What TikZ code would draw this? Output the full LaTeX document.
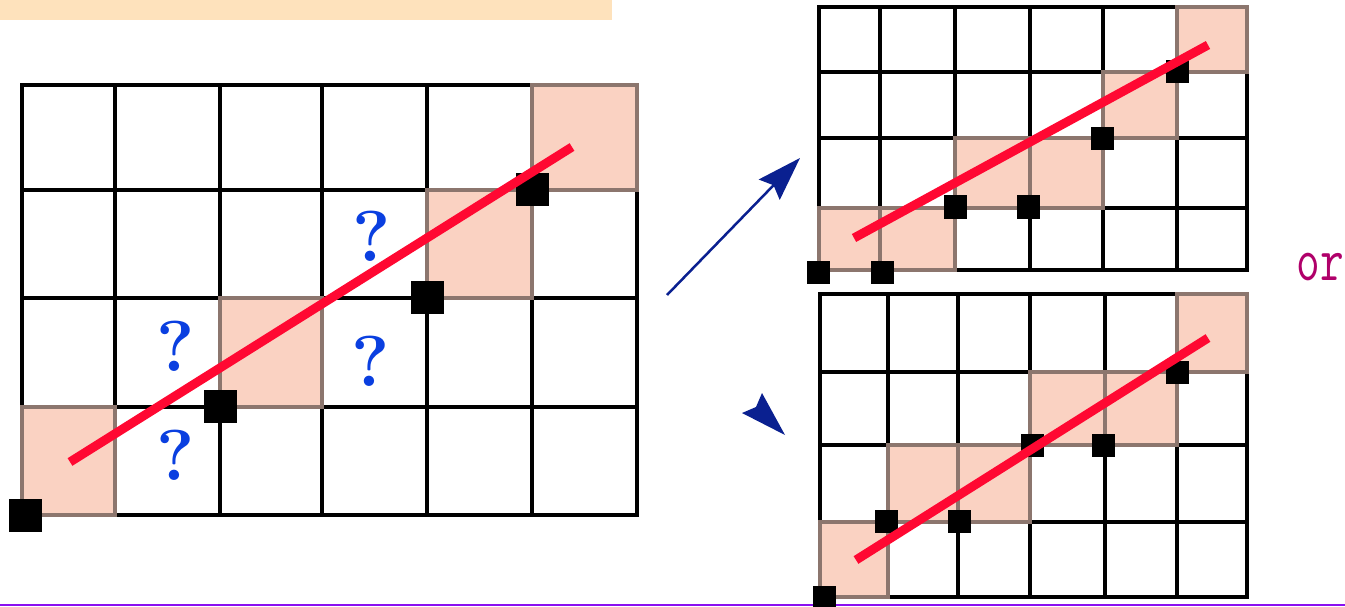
\documentclass[tikz,border=0pt]{standalone}
\usepackage{fontspec}
\usetikzlibrary{arrows.meta}
\definecolor{peach}{HTML}{FAD2C2}
\definecolor{cellborder}{HTML}{8C766E}
\definecolor{redline}{HTML}{FF0832}
\definecolor{qblue}{HTML}{0A3FE0}
\definecolor{arrowblue}{HTML}{0A2090}
\definecolor{orbar}{HTML}{FEE2BC}
\definecolor{violetline}{HTML}{8A10F0}
\definecolor{ormag}{HTML}{B0006A}
\tikzset{
  gridline/.style={line width=3.6pt, black, line cap=rect},
  cellsty/.style={fill=peach, draw=cellborder, line width=3.6pt},
  bigdot/.style={fill=black, inner sep=0pt, minimum size=33pt, draw=none},
  smalldot/.style={fill=black, inner sep=0pt, minimum size=23pt, draw=none},
  redsty/.style={draw=redline, line width=9pt},
  qmark/.style={text=qblue, inner sep=0pt, font=\bfseries\fontsize{72}{72}\selectfont},
  bluearrow/.style={draw=arrowblue, line width=2.5pt, -{Stealth[length=44pt,width=29pt,inset=6pt]}},
}
\begin{document}
\begin{tikzpicture}[x=1pt,y=-1pt]
\useasboundingbox (0,0) rectangle (1345,607);
\fill[white] (0,0) rectangle (1345,607);
% top bar
\fill[orbar] (0,0) rectangle (612,20);
% bottom violet line
\draw[violetline, line width=2pt] (0,605) -- (1345,605);

% ---------- left grid ----------
\foreach \x in {22,115,220,322,427,532,637} \draw[gridline] (\x,85) -- (\x,515);
\foreach \y in {85,190,298,407,515} \draw[gridline] (22,\y) -- (637,\y);
\draw[cellsty] (22,407) rectangle (115,515);
\draw[cellsty] (220,298) rectangle (322,407);
\draw[cellsty] (427,190) rectangle (532,298);
\draw[cellsty] (532,85) rectangle (637,190);
\node[bigdot] (L1) at (25,515) {};
\node[bigdot] (L2) at (220,406) {};
\node[bigdot] (L3) at (427,297) {};
\node[bigdot] (L4) at (532,190) {};
\coordinate (LA) at (70,462);
\coordinate (LB) at (572,147);
\draw[redsty] (LA) -- (LB);
\node[qmark] (q1) at (372,236) {?};
\node[qmark] (q2) at (176,346) {?};
\node[qmark] (q3) at (371,361) {?};
\node[qmark] (q4) at (176,455) {?};

% ---------- arrows ----------
\coordinate (AS) at (667,295);
\coordinate (AE) at (800,158);
\draw[bluearrow] (AS) -- (AE);
\fill[arrowblue] (785,435) -- (762,393) -- (756,407) -- (742,413) -- cycle;

% ---------- top-right grid ----------
\foreach \x in {819,880,955,1030,1103,1177,1247} \draw[gridline] (\x,7) -- (\x,270);
\foreach \y in {7,72,138,208,270} \draw[gridline] (819,\y) -- (1247,\y);
\draw[cellsty] (1177,7) rectangle (1247,72);
\draw[cellsty] (1103,72) rectangle (1177,138);
\draw[cellsty] (955,138) rectangle (1030,208);
\draw[cellsty] (1030,138) rectangle (1103,208);
\draw[cellsty] (819,208) rectangle (880,270);
\draw[cellsty] (880,208) rectangle (955,270);
\node[smalldot] (T1) at (818,272) {};
\node[smalldot] (T2) at (882,272) {};
\node[smalldot] (T3) at (955,207) {};
\node[smalldot] (T4) at (1028,207) {};
\node[smalldot] (T5) at (1102,139) {};
\node[smalldot] (T6) at (1177,72) {};
\coordinate (TA) at (854,238);
\coordinate (TB) at (1208,45);
\draw[redsty] (TA) -- (TB);

% ---------- bottom-right grid ----------
\foreach \x in {820,888,958,1030,1105,1177,1247} \draw[gridline] (\x,294) -- (\x,597);
\foreach \y in {294,372,445,522,597} \draw[gridline] (820,\y) -- (1247,\y);
\draw[cellsty] (1177,294) rectangle (1247,372);
\draw[cellsty] (1030,372) rectangle (1105,445);
\draw[cellsty] (1105,372) rectangle (1177,445);
\draw[cellsty] (888,445) rectangle (958,522);
\draw[cellsty] (958,445) rectangle (1030,522);
\draw[cellsty] (820,522) rectangle (888,597);
\node[smalldot] (B1) at (824,597) {};
\node[smalldot] (B2) at (886,521) {};
\node[smalldot] (B3) at (959,521) {};
\node[smalldot] (B4) at (1032,445) {};
\node[smalldot] (B5) at (1103,445) {};
\node[smalldot] (B6) at (1177,372) {};
\coordinate (BA) at (856,560);
\coordinate (BB) at (1208,338);
\draw[redsty] (BA) -- (BB);

% ---------- "or" ----------
\node[text=ormag, inner sep=0pt, font=\ttfamily\fontsize{46}{46}\selectfont, yscale=1.35, transform shape] (or) at (1320,267) {or};
\end{tikzpicture}
\end{document}
